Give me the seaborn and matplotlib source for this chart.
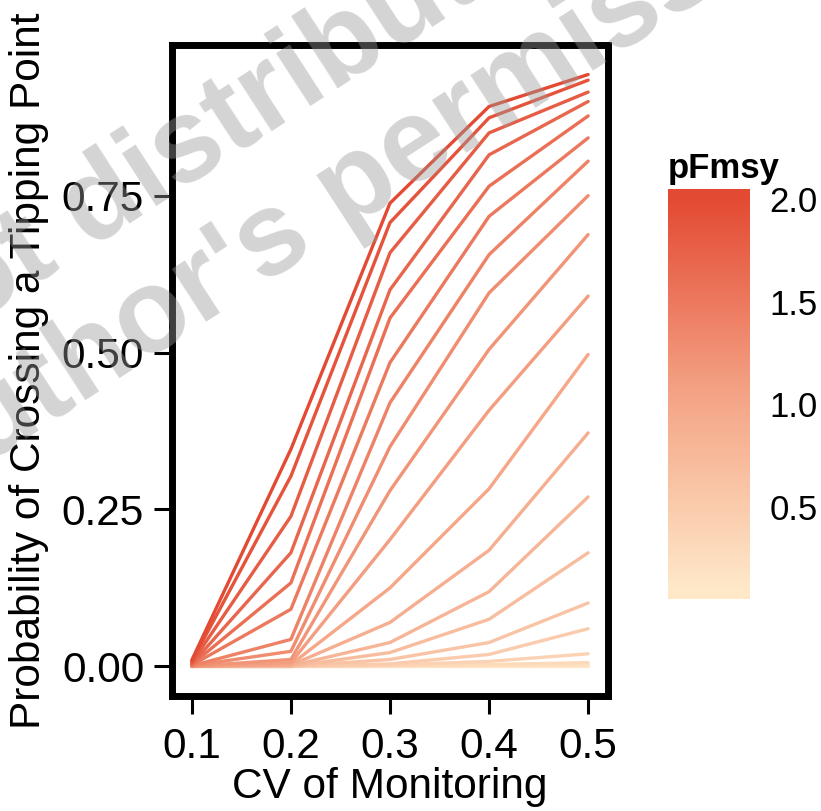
import numpy as np
import pandas as pd
import seaborn as sns
import matplotlib
matplotlib.use("Agg")
from matplotlib import pyplot as plt
from matplotlib.colors import LinearSegmentedColormap, Normalize
from matplotlib.cm import ScalarMappable

# CV of monitoring on the x axis
cv = [0.1, 0.2, 0.3, 0.4, 0.5]
# one line per pFmsy value
pfmsy = [0.1, 0.2, 0.3, 0.4, 0.5, 0.6, 0.7, 0.8, 0.9, 1.0,
         1.1, 1.2, 1.3, 1.4, 1.5, 1.6, 1.7, 1.8, 1.9, 2.0]

# probability of crossing a tipping point, ordered by pfmsy, one list per cv
prob_cv01 = [0.000, 0.000, 0.000, 0.000, 0.000, 0.000, 0.000, 0.000, 0.000, 0.000,
             0.000, 0.000, 0.001, 0.001, 0.002, 0.003, 0.004, 0.006, 0.008, 0.010]
prob_cv02 = [0.000, 0.000, 0.000, 0.000, 0.000, 0.000, 0.000, 0.001, 0.002, 0.003,
             0.006, 0.011, 0.024, 0.043, 0.091, 0.133, 0.181, 0.239, 0.303, 0.346]
prob_cv03 = [0.000, 0.000, 0.001, 0.002, 0.004, 0.011, 0.022, 0.038, 0.070, 0.125,
             0.202, 0.280, 0.350, 0.420, 0.484, 0.555, 0.600, 0.659, 0.707, 0.738]
prob_cv04 = [0.000, 0.001, 0.003, 0.008, 0.019, 0.038, 0.075, 0.119, 0.185, 0.283,
             0.408, 0.505, 0.595, 0.656, 0.717, 0.765, 0.815, 0.850, 0.874, 0.892]
prob_cv05 = [0.000, 0.002, 0.006, 0.020, 0.060, 0.101, 0.181, 0.270, 0.372, 0.497,
             0.590, 0.688, 0.750, 0.805, 0.842, 0.877, 0.900, 0.915, 0.934, 0.943]

y_ticks = [0.0, 0.25, 0.5, 0.75]
cbar_ticks = [0.5, 1.0, 1.5, 2.0]

watermark = "Do not distribute without\nauthor's permission"

rows = []
for x, probs in zip(cv, [prob_cv01, prob_cv02, prob_cv03, prob_cv04, prob_cv05]):
    for p, val in zip(pfmsy, probs):
        rows.append({"cv": x, "pFmsy": p, "prob": val})
df = pd.DataFrame(rows)

sns.set_style("white")
plt.rcParams["font.family"] = ["Liberation Sans", "DejaVu Sans"]
plt.rcParams.update({"text.color": "black", "axes.labelcolor": "black",
                     "xtick.color": "black", "ytick.color": "black"})

cmap = LinearSegmentedColormap.from_list("pf", ["#fee8c8", "#f4a385", "#e34a33"])

fig = plt.figure(figsize=(8.21, 8.11), dpi=100)
ax = fig.add_axes([0.2095, 0.1418, 0.531, 0.8027])
cax = fig.add_axes([0.8136, 0.2614, 0.0999, 0.5055])

sns.lineplot(data=df, x="cv", y="prob", hue="pFmsy", palette=cmap,
             hue_norm=(0.1, 2.0), legend=False, linewidth=2.4, ax=ax)

ax.set_xlim(0.08, 0.52)
ax.set_ylim(-0.0472, 0.99)
ax.set_xticks(cv)
ax.set_xticklabels([f"{v:.1f}" for v in cv])
ax.set_yticks(y_ticks)
ax.set_yticklabels([f"{v:.2f}" for v in y_ticks])
ax.set_xlabel("CV of Monitoring", fontsize=30.5, labelpad=0)
ax.set_ylabel("Probability of Crossing a Tipping Point", fontsize=30.5, labelpad=9)
ax.tick_params(axis="both", labelsize=30.5, length=13, width=2.2, color="black",
               labelcolor="black", direction="out", bottom=True, left=True)
ax.tick_params(axis="x", pad=9)
ax.tick_params(axis="y", pad=7)
for side in ["top", "bottom", "left", "right"]:
    ax.spines[side].set_visible(True)
    ax.spines[side].set_color("black")
    ax.spines[side].set_linewidth(5)

sm = ScalarMappable(norm=Normalize(0.1, 2.0), cmap=cmap)
cb = fig.colorbar(sm, cax=cax, boundaries=np.linspace(0.05, 2.05, 301))
cb.outline.set_visible(False)
cb.set_ticks(cbar_ticks)
cb.set_ticklabels([f"{v:.1f}" for v in cbar_ticks])
cax.tick_params(axis="y", direction="in", length=12, width=1.2, color="white",
                labelcolor="black", labelsize=25, pad=14,
                left=True, right=True, labelleft=False, labelright=True)
fig.text(668 / 821, 1 - 178 / 811, "pFmsy", fontsize=25, fontweight="bold",
         ha="left", va="baseline")

fig.text(0.4275, 0.8557, watermark, fontsize=85, fontweight="bold", color="0.6",
         alpha=0.42, rotation=33, ha="center", va="center",
         rotation_mode="anchor", linespacing=1.15, zorder=10)

fig.savefig("out.png", dpi=100)
